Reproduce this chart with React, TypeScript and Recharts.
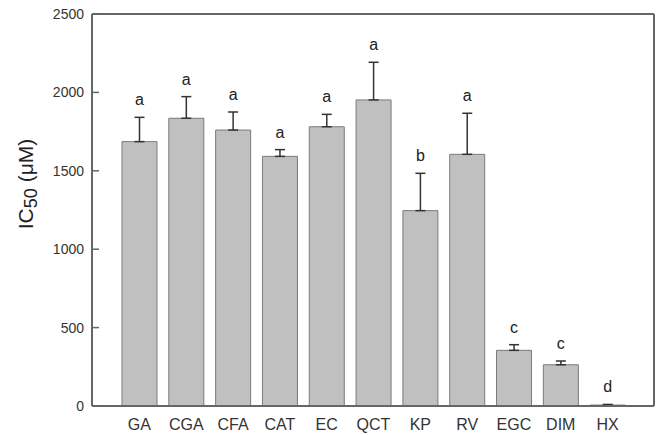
import React from "react";
import {
  Bar,
  BarChart,
  CartesianGrid,
  ErrorBar,
  LabelList,
  XAxis,
  YAxis,
} from "recharts";

const CATEGORIES = ["GA", "CGA", "CFA", "CAT", "EC", "QCT", "KP", "RV", "EGC", "DIM", "HX"];
const IC50_MEANS = [1686, 1835, 1760, 1592, 1781, 1952, 1246, 1605, 355, 263, 6];
const IC50_SE = [155, 138, 115, 43, 79, 240, 238, 262, 36, 24, 4];
const GROUP_LETTERS = ["a", "a", "a", "a", "a", "a", "b", "a", "c", "c", "d"];
const Y_TICKS = [0, 500, 1000, 1500, 2000, 2500];

const W = 665;
const H = 435;
const MARGIN = { top: 14, right: 11, bottom: 0, left: 32 };
const X_AXIS_H = 29;
const PLOT_H = H - MARGIN.top - MARGIN.bottom - X_AXIS_H;
const Y_MAX = 2500;
const FONT = "'Liberation Sans', Arial, sans-serif";
const AXIS_COLOR = "#666666";

const data = CATEGORIES.map((name, i) => ({
  name,
  mean: IC50_MEANS[i],
  err: [0, IC50_SE[i]],
  letter: GROUP_LETTERS[i],
}));

function YTick(props: any) {
  const { x, y, payload } = props;
  return (
    <g>
      <line x1={x} x2={x + 7} y1={y} y2={y} stroke={AXIS_COLOR} strokeWidth={1.5} />
      <text
        x={x - 8}
        y={y}
        textAnchor="end"
        dominantBaseline="central"
        fontSize={14}
        fontFamily={FONT}
        fill="#333"
      >
        {payload.value}
      </text>
    </g>
  );
}

function LetterLabel(props: any) {
  const { x, y, width, index } = props;
  const errPx = (IC50_SE[index] / Y_MAX) * PLOT_H;
  return (
    <text
      x={x + width / 2}
      y={y - errPx - 12}
      textAnchor="middle"
      fontSize={16}
      fontFamily={FONT}
      fill="#222"
    >
      {GROUP_LETTERS[index]}
    </text>
  );
}

function YLabel() {
  const cx = 33;
  const cy = 184;
  return (
    <text
      transform={`translate(${cx},${cy}) rotate(-90)`}
      textAnchor="middle"
      fontSize={21}
      fontFamily={FONT}
      fill="#222"
    >
      IC
      <tspan fontSize={18} dy={4}>
        50
      </tspan>
      <tspan dy={-4}> (μM)</tspan>
    </text>
  );
}

export default function App() {
  return (
    <div style={{ position: "absolute", left: 0, top: 0, width: W, height: H, background: "#fff" }}>
      <BarChart width={W} height={H} data={data} margin={MARGIN}>
        <CartesianGrid
          stroke={AXIS_COLOR}
          strokeWidth={2}
          horizontalCoordinatesGenerator={({ offset }: any) => [offset.top]}
          verticalCoordinatesGenerator={({ offset }: any) => [offset.left + offset.width]}
        />
        <XAxis
          dataKey="name"
          height={X_AXIS_H}
          tickLine={false}
          tickSize={6}
          tickMargin={7}
          padding={{ left: 24, right: 23 }}
          axisLine={{ stroke: AXIS_COLOR, strokeWidth: 2 }}
          tick={{ fontSize: 16, fontFamily: FONT, fill: "#333" }}
          interval={0}
        />
        <YAxis
          domain={[0, Y_MAX]}
          ticks={Y_TICKS}
          width={60}
          tickLine={false}
          tickSize={0}
          tickMargin={0}
          axisLine={{ stroke: AXIS_COLOR, strokeWidth: 2 }}
          tick={<YTick />}
          label={{ content: () => <YLabel /> }}
        />
        <Bar
          dataKey="mean"
          barSize={35}
          fill="#c0c0c0"
          stroke="#7a7a7a"
          strokeWidth={1}
          isAnimationActive={false}
        >
          <ErrorBar dataKey="err" direction="y" width={5} stroke="#333" strokeWidth={1.5} />
          <LabelList dataKey="letter" content={<LetterLabel />} />
        </Bar>
      </BarChart>
    </div>
  );
}
